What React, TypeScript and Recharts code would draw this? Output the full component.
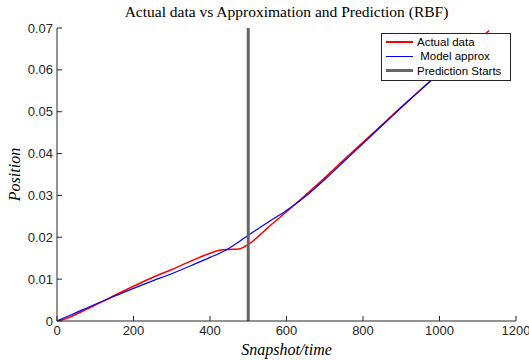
import React from 'react';
import { LineChart, Line, XAxis, YAxis, ReferenceLine, Legend } from 'recharts';

const snapshots = [0, 25, 50, 75, 100, 150, 200, 250, 300, 350, 400, 425, 450, 475, 500, 525, 550, 600, 650, 700, 750, 800, 850, 900, 950, 1000, 1050, 1100, 1130];
const actualData = [0, 0.0006, 0.0016, 0.0027, 0.0038, 0.0061, 0.0083, 0.0104, 0.0123, 0.0143, 0.0162, 0.0169, 0.0171, 0.0172, 0.0183, 0.0201, 0.0222, 0.0261, 0.0301, 0.0342, 0.0385, 0.0427, 0.0469, 0.0511, 0.0552, 0.0592, 0.0632, 0.0671, 0.0694];
// model curve stops under the legend box
const modelApprox = [0, 0.001, 0.002, 0.003, 0.004, 0.0059, 0.0078, 0.0096, 0.0113, 0.0132, 0.0152, 0.0162, 0.0174, 0.0189, 0.0205, 0.022, 0.0235, 0.0264, 0.0298, 0.0338, 0.0381, 0.0424, 0.0467, 0.051, 0.0552, 0.0593, 0.0633, 0.0668, null];
const predictionStart = 500;
const xTicks = [0, 200, 400, 600, 800, 1000, 1200];
const yTicks = [0, 0.01, 0.02, 0.03, 0.04, 0.05, 0.06, 0.07];

const legendItems = [
  { label: 'Actual data', color: '#ff0000', width: 1.5 },
  { label: '\u00a0Model approx', color: '#0000ff', width: 1.2 },
  { label: 'Prediction Starts', color: '#666666', width: 3 },
];

const AXIS = '#262626';
const tickStyle = { fontSize: 13, fill: AXIS, fontFamily: '"Liberation Sans", Arial, sans-serif' };
const serif = '"Liberation Serif", "Times New Roman", serif';

const LegendBox = () => (
  <div style={{ border: '1px solid #262626', background: '#fff', padding: '1px 4px 2px 4px', fontFamily: '"Liberation Sans", Arial, sans-serif', fontSize: 11.5, color: '#000' }}>
    {legendItems.map((it) => (
      <div key={it.label} style={{ display: 'flex', alignItems: 'center', height: 14.3 }}>
        <div style={{ width: 27, height: it.width, background: it.color, marginRight: 4 }} />
        <span>{it.label}</span>
      </div>
    ))}
  </div>
);

export default function App() {
  const data = snapshots.map((x, i) => ({ x, actual: actualData[i], model: modelApprox[i] }));
  return (
    <div style={{ position: 'absolute', left: 0, top: 0, width: 529, height: 360, background: '#fff' }}>
      <LineChart width={529} height={360} data={data} margin={{ top: 28, right: 13, bottom: 0, left: 0 }}>
        <text x={286.5} y={17} textAnchor="middle" style={{ fontFamily: serif, fontSize: 15.5, fill: '#000' }}>
          Actual data vs Approximation and Prediction (RBF)
        </text>
        <XAxis
          dataKey="x"
          type="number"
          domain={[0, 1200]}
          ticks={xTicks}
          height={39}
          tickSize={-5}
          tickMargin={10}
          stroke={AXIS}
          tick={tickStyle}
          allowDataOverflow
          label={{ value: 'Snapshot/time', position: 'insideBottom', offset: 5, style: { fontFamily: serif, fontStyle: 'italic', fontSize: 16, fill: '#000' } }}
        />
        <XAxis xAxisId="top" orientation="top" type="number" domain={[0, 1200]} ticks={xTicks} height={0} tickSize={-5} tick={false} stroke={AXIS} allowDataOverflow />
        <YAxis
          type="number"
          domain={[0, 0.07]}
          ticks={yTicks}
          width={57}
          tickSize={-5}
          tickMargin={9}
          stroke={AXIS}
          tick={tickStyle}
          allowDataOverflow
          label={{ value: 'Position', angle: -90, position: 'insideLeft', offset: 14, style: { textAnchor: 'middle', fontFamily: serif, fontStyle: 'italic', fontSize: 16, fill: '#000' } }}
        />
        <YAxis yAxisId="right" orientation="right" type="number" domain={[0, 0.07]} ticks={yTicks} width={0} tickSize={-5} tick={false} stroke={AXIS} allowDataOverflow />
        <Line dataKey="actual" type="monotone" stroke="#ff0000" strokeWidth={1.5} dot={false} isAnimationActive={false} />
        <Line dataKey="model" type="monotone" stroke="#0000ff" strokeWidth={1.2} dot={false} isAnimationActive={false} />
        <ReferenceLine x={predictionStart} stroke="#666666" strokeWidth={3} />
        <Legend
          layout="horizontal"
          verticalAlign="middle"
          align="center"
          content={<LegendBox />}
          wrapperStyle={{ position: 'absolute', left: 381, top: 33, width: 130, height: 'auto' }}
        />
      </LineChart>
    </div>
  );
}
